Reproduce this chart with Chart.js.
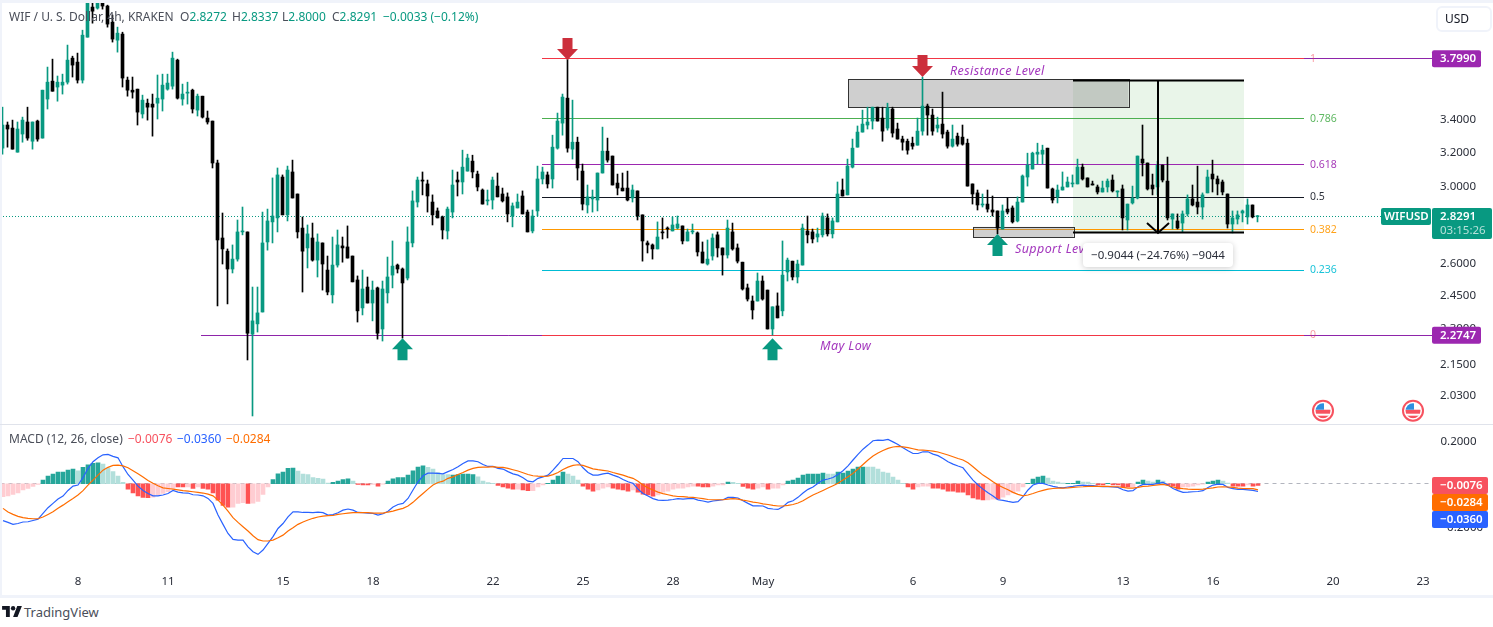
<!DOCTYPE html>
<html>
<head>
<meta charset="utf-8">
<title>WIFUSD 4h</title>
<script src="https://cdn.jsdelivr.net/npm/chart.js@4"></script>
<style>
  html, body { margin: 0; padding: 0; background: #fff; overflow: hidden; }
  body { width: 1493px; height: 627px; position: relative; font-family: "Noto Sans", sans-serif; color: #4a4e59; }
  canvas { position: absolute; left: 0; }
  #mainChart { top: 3px; }
  #macdChart { top: 425px; }
  .strip { position: absolute; background: #f0f3fa; }
  .txt { position: absolute; font-size: 12px; line-height: 14px; white-space: nowrap; }
  .up { color: #089981; }
</style>
</head>
<body>
<canvas id="mainChart" width="1493" height="421"></canvas>
<canvas id="macdChart" width="1493" height="170"></canvas>

<div class="strip" style="left:0;top:0;width:1493px;height:3px"></div>
<div class="strip" style="left:0;top:0;width:2px;height:596px"></div>
<div class="strip" style="left:0;top:424px;width:1493px;height:1px;background:#e0e3eb"></div>
<div class="strip" style="left:0;top:595px;width:1493px;height:3px"></div>

<div class="txt" style="left:9px;top:10px">WIF / U. S. Dollar, 4h, KRAKEN</div>
<div class="txt" style="left:180px;top:10px">O<span class="up">2.8272</span></div>
<div class="txt" style="left:232px;top:10px">H<span class="up">2.8337</span></div>
<div class="txt" style="left:282px;top:10px">L<span class="up">2.8000</span></div>
<div class="txt" style="left:332px;top:10px">C<span class="up">2.8291</span></div>
<div class="txt up" style="left:383px;top:10px">−0.0033 (−0.12%)</div>

<div class="txt" style="left:9px;top:432px">MACD (12, 26, close)</div>
<div class="txt" style="left:128px;top:432px;color:#f7525f">−0.0076</div>
<div class="txt" style="left:177px;top:432px;color:#2962ff">−0.0360</div>
<div class="txt" style="left:226px;top:432px;color:#ff6d00">−0.0284</div>

<div class="txt" style="left:1436px;top:6px;width:52px;height:22px;line-height:22px;border:2px solid #f0f3fa;border-radius:6px;padding-left:0;color:#131722"><span style="margin-left:7px">USD</span></div>

<svg style="position:absolute;left:2px;top:606px" width="20" height="11" viewBox="0 0 36 20"><path fill="#131722" d="M14 20H7V7H0V0h14v20zM28 20h-8l7.5-20H36l-8 20z"/><circle cx="20" cy="4" r="4" fill="#131722"/></svg>
<div class="txt" style="left:24px;top:605px;font-size:13px;line-height:15px;color:#4a4e59">TradingView</div>

<script>
const barCount = 286;
const barLabels = Array.from({ length: barCount }, (_, i) => i);

const tickBars = [15, 33, 56, 74, 98, 116, 134, 152, 182, 200, 224, 242, 266, 284];
const tickNames = ['8', '11', '15', '18', '22', '25', '28', 'May', '6', '9', '13', '16', '20', '23'];

const priceTicks = [3.4, 3.2, 3.0, 2.6, 2.45, 2.3, 2.15, 2.03];
const macdTicks = [0.2, -0.2];

const opens = [
  3.214,3.356,3.337,3.190,3.300,3.375,3.256,3.381,3.275,3.523,
  3.643,3.603,3.616,3.636,3.803,3.775,3.650,3.955,4.184,4.176,
  4.215,4.192,4.068,3.933,3.978,3.650,3.582,3.589,3.426,3.496,
  3.490,3.496,3.523,3.589,3.609,3.789,3.523,3.562,3.582,3.451,
  3.542,3.400,3.381,3.126,2.717,2.651,2.564,2.612,2.748,2.748,
  2.270,2.314,2.366,2.697,2.800,2.821,3.045,2.837,3.074,2.950,
  2.768,2.667,2.717,2.607,2.692,2.559,2.443,2.583,2.677,2.672,
  2.627,2.512,2.384,2.479,2.406,2.475,2.292,2.452,2.535,2.583,
  2.564,2.521,2.692,2.906,3.028,3.006,2.906,2.858,2.826,2.753,
  2.852,3.028,3.017,3.079,3.137,3.062,2.972,2.912,2.917,2.994,
  2.950,2.934,2.831,2.874,2.939,2.852,2.753,2.858,3.034,3.057,
  3.034,3.214,3.368,3.529,3.208,3.250,3.079,2.890,2.923,2.917,
  3.068,3.196,3.167,3.011,2.983,2.983,2.928,2.967,2.837,2.692,
  2.682,2.662,2.748,2.768,2.753,2.768,2.779,2.702,2.748,2.743,
  2.647,2.588,2.627,2.733,2.667,2.632,2.748,2.667,2.597,2.475,
  2.415,2.415,2.507,2.465,2.292,2.393,2.371,2.550,2.602,2.526,
  2.583,2.753,2.748,2.722,2.733,2.821,2.738,2.800,2.972,2.945,
  3.102,3.220,3.312,3.356,3.381,3.470,3.400,3.337,3.458,3.331,
  3.269,3.256,3.244,3.232,3.318,3.477,3.419,3.337,3.362,3.312,
  3.226,3.287,3.281,3.244,3.006,2.956,2.890,2.895,2.863,2.858,
  2.763,2.868,2.874,2.805,2.906,3.045,3.091,3.178,3.178,3.214,
  2.978,2.934,2.972,2.989,3.006,3.006,3.102,3.040,3.006,2.989,
  2.961,2.989,3.028,2.961,2.978,2.810,2.901,2.928,3.149,3.126,
  3.000,2.989,3.114,3.022,2.815,2.805,2.794,2.842,2.923,2.906,
  2.879,2.956,3.062,3.034,3.017,2.950,2.789,2.815,2.847,2.826,
  2.890,2.8272
];
const highs = [
  3.470,3.375,3.387,3.375,3.406,3.470,3.375,3.387,3.582,3.740,
  3.796,3.678,3.691,3.897,3.817,3.839,4.007,4.260,4.240,4.240,
  4.240,4.199,4.122,4.030,3.992,3.671,3.671,3.589,3.549,3.523,
  3.556,3.685,3.691,3.691,3.846,3.796,3.623,3.636,3.589,3.556,
  3.542,3.445,3.381,3.143,2.847,2.662,2.682,2.810,2.879,2.748,
  2.479,2.479,2.852,2.868,3.040,3.097,3.057,3.108,3.143,2.950,
  2.826,2.784,2.794,2.738,2.692,2.627,2.722,2.758,2.722,2.779,
  2.627,2.531,2.559,2.526,2.507,2.479,2.507,2.622,2.702,2.588,
  2.569,2.774,2.967,3.045,3.074,3.028,2.945,2.874,2.831,2.879,
  3.085,3.074,3.202,3.178,3.172,3.079,2.978,2.972,3.045,3.068,
  2.983,2.956,2.901,2.950,2.967,2.863,2.863,3.108,3.102,3.074,
  3.293,3.432,3.556,3.796,3.516,3.281,3.120,3.000,2.972,3.068,
  3.343,3.275,3.167,3.062,3.068,3.079,3.000,2.967,2.837,2.702,
  2.687,2.800,2.821,2.774,2.826,2.831,2.779,2.763,2.789,2.748,
  2.697,2.707,2.738,2.748,2.667,2.810,2.794,2.687,2.597,2.493,
  2.438,2.545,2.531,2.465,2.389,2.452,2.702,2.617,2.602,2.607,
  2.789,2.831,2.763,2.768,2.847,2.842,2.821,3.017,3.034,3.149,
  3.269,3.350,3.451,3.470,3.470,3.470,3.470,3.496,3.470,3.368,
  3.287,3.269,3.281,3.400,3.671,3.490,3.458,3.406,3.569,3.324,
  3.356,3.306,3.356,3.269,3.006,2.972,2.950,2.972,2.939,2.858,
  2.890,2.928,2.885,2.934,3.057,3.184,3.190,3.244,3.232,3.214,
  2.983,3.000,3.074,3.045,3.057,3.149,3.120,3.040,3.022,3.000,
  3.022,3.034,3.057,2.967,3.000,2.895,2.994,3.167,3.356,3.126,
  3.062,3.137,3.114,3.161,2.842,2.842,2.858,2.945,3.000,3.108,
  2.956,3.085,3.143,3.051,3.028,2.950,2.858,2.858,2.863,2.923,
  2.890,2.8337
];
const lows = [
  3.178,3.220,3.208,3.190,3.250,3.262,3.208,3.256,3.275,3.458,
  3.575,3.509,3.556,3.623,3.671,3.630,3.630,3.955,4.060,4.168,
  4.168,4.030,3.919,3.846,3.603,3.542,3.529,3.356,3.400,3.387,
  3.287,3.394,3.445,3.582,3.589,3.523,3.483,3.490,3.432,3.413,
  3.400,3.362,3.097,2.393,2.588,2.402,2.545,2.602,2.733,2.163,
  1.948,2.279,2.366,2.656,2.692,2.748,2.837,2.805,2.928,2.717,
  2.456,2.569,2.602,2.526,2.465,2.443,2.406,2.573,2.597,2.617,
  2.503,2.322,2.353,2.406,2.327,2.249,2.241,2.406,2.475,2.545,
  2.253,2.512,2.672,2.879,2.945,2.852,2.784,2.821,2.712,2.712,
  2.821,2.939,2.950,3.079,3.040,2.967,2.895,2.890,2.868,2.934,
  2.906,2.800,2.774,2.874,2.842,2.748,2.743,2.831,3.006,2.983,
  2.983,3.208,3.293,3.190,3.149,3.028,2.863,2.847,2.852,2.858,
  3.068,3.131,3.000,2.945,2.967,2.912,2.906,2.810,2.602,2.642,
  2.612,2.662,2.712,2.717,2.753,2.763,2.687,2.702,2.738,2.627,
  2.593,2.583,2.607,2.622,2.535,2.617,2.656,2.593,2.465,2.415,
  2.335,2.415,2.419,2.292,2.266,2.340,2.349,2.507,2.512,2.498,
  2.583,2.692,2.692,2.697,2.722,2.727,2.717,2.800,2.939,2.945,
  3.097,3.220,3.312,3.331,3.331,3.381,3.256,3.324,3.281,3.269,
  3.202,3.178,3.208,3.232,3.293,3.293,3.293,3.312,3.275,3.214,
  3.220,3.226,3.232,2.994,2.895,2.863,2.879,2.852,2.831,2.738,
  2.763,2.842,2.794,2.800,2.906,2.994,3.091,3.120,3.120,2.983,
  2.901,2.901,2.972,2.989,2.989,3.006,3.028,2.989,3.000,2.950,
  2.961,2.961,2.961,2.934,2.758,2.758,2.895,2.923,3.051,2.972,
  2.945,2.945,3.017,2.810,2.763,2.763,2.748,2.831,2.885,2.842,
  2.815,2.956,2.961,2.945,2.945,2.768,2.743,2.789,2.800,2.789,
  2.821,2.8000
];
const closes = [
  3.356,3.331,3.208,3.331,3.387,3.275,3.375,3.269,3.582,3.636,
  3.575,3.636,3.636,3.789,3.754,3.650,3.970,4.223,4.152,4.215,
  4.192,4.053,3.941,3.985,3.664,3.582,3.569,3.438,3.516,3.470,
  3.470,3.529,3.616,3.630,3.803,3.529,3.556,3.569,3.458,3.542,
  3.406,3.375,3.126,2.707,2.662,2.564,2.612,2.748,2.753,2.274,
  2.327,2.362,2.692,2.805,2.831,3.057,2.837,3.085,2.928,2.748,
  2.651,2.738,2.607,2.697,2.588,2.456,2.583,2.682,2.667,2.617,
  2.503,2.371,2.470,2.406,2.465,2.274,2.470,2.526,2.578,2.564,
  2.498,2.697,2.912,3.028,3.022,2.939,2.837,2.821,2.758,2.868,
  3.000,3.017,3.102,3.155,3.074,2.989,2.895,2.917,3.028,2.934,
  2.912,2.842,2.885,2.906,2.842,2.748,2.831,3.034,3.074,3.006,
  3.220,3.381,3.536,3.214,3.250,3.097,2.895,2.934,2.934,3.068,
  3.196,3.143,3.000,2.983,2.967,2.917,2.972,2.831,2.702,2.682,
  2.662,2.722,2.743,2.763,2.784,2.789,2.702,2.748,2.753,2.647,
  2.593,2.612,2.717,2.667,2.632,2.768,2.662,2.602,2.470,2.424,
  2.375,2.507,2.424,2.292,2.389,2.340,2.535,2.607,2.526,2.588,
  2.768,2.733,2.712,2.738,2.831,2.738,2.805,2.950,2.939,3.108,
  3.214,3.312,3.362,3.375,3.470,3.381,3.318,3.464,3.306,3.269,
  3.250,3.202,3.226,3.318,3.477,3.419,3.318,3.356,3.300,3.226,
  3.269,3.238,3.238,2.994,2.950,2.890,2.895,2.868,2.852,2.768,
  2.858,2.852,2.800,2.906,3.051,3.114,3.184,3.190,3.202,2.983,
  2.917,2.972,2.989,3.017,3.011,3.102,3.034,2.989,3.000,2.961,
  2.983,3.022,2.967,2.967,2.821,2.895,2.928,3.167,3.126,2.978,
  2.978,3.114,3.028,2.821,2.842,2.768,2.842,2.923,2.890,2.879,
  2.945,3.045,3.034,3.006,2.961,2.789,2.821,2.837,2.858,2.890,
  2.826,2.8291
];

const macdLine = [
  -.171,-.179,-.188,-.184,-.177,-.176,-.170,-.164,-.137,-.111,
  -.091,-.071,-.057,-.031,-.011,-.006,.028,.071,.102,.120,
  .134,.136,.127,.120,.079,.043,.017,-.011,-.031,-.045,
  -.056,-.056,-.052,-.045,-.031,-.039,-.042,-.043,-.051,-.052,
  -.056,-.068,-.091,-.145,-.188,-.230,-.258,-.261,-.261,-.292,
  -.315,-.327,-.307,-.276,-.245,-.207,-.184,-.153,-.130,-.130,
  -.133,-.133,-.134,-.131,-.134,-.145,-.143,-.134,-.122,-.117,
  -.122,-.133,-.134,-.136,-.137,-.145,-.139,-.127,-.108,-.096,
  -.091,-.068,-.029,.009,.037,.049,.049,.048,.046,.056,
  .066,.079,.094,.106,.106,.102,.089,.080,.080,.071,
  .068,.056,.046,.040,.028,.012,.009,.025,.032,.040,
  .063,.089,.117,.117,.117,.102,.074,.052,.040,.040,
  .046,.049,.040,.032,.020,.009,.002,-.025,-.045,-.057,
  -.069,-.076,-.077,-.076,-.073,-.069,-.071,-.069,-.068,-.076,
  -.080,-.085,-.080,-.077,-.074,-.063,-.063,-.066,-.079,-.091,
  -.102,-.102,-.103,-.114,-.117,-.119,-.106,-.086,-.079,-.063,
  -.043,-.026,-.015,.002,.017,.022,.029,.043,.060,.083,
  .110,.136,.160,.179,.199,.202,.201,.205,.194,.182,
  .167,.153,.140,.140,.148,.148,.137,.130,.117,.102,
  .091,.082,.074,.045,.017,-.006,-.025,-.042,-.057,-.074,
  -.077,-.082,-.086,-.083,-.060,-.029,-.006,.002,.002,-.006,
  -.012,-.017,-.019,-.015,-.012,-.008,-.006,-.008,-.009,-.012,
  -.014,-.014,-.015,-.017,-.028,-.034,-.032,-.014,-.003,-.003,
  -.003,.002,.006,-.006,-.022,-.032,-.040,-.039,-.037,-.036,
  -.032,-.017,-.006,-.002,-.003,-.017,-.023,-.026,-.026,-.028,
  -.031,-.0360
];
const signalLine = [
  -.114,-.131,-.142,-.151,-.157,-.160,-.162,-.162,-.154,-.142,
  -.130,-.114,-.099,-.083,-.068,-.052,-.032,-.006,.017,.040,
  .063,.076,.085,.086,.083,.074,.060,.046,.031,.015,
  .002,-.009,-.019,-.022,-.025,-.028,-.032,-.034,-.037,-.040,
  -.043,-.048,-.056,-.076,-.099,-.127,-.157,-.179,-.199,-.219,
  -.241,-.259,-.265,-.265,-.261,-.250,-.238,-.219,-.204,-.188,
  -.177,-.168,-.160,-.154,-.150,-.148,-.147,-.142,-.139,-.136,
  -.134,-.134,-.134,-.134,-.136,-.136,-.136,-.131,-.127,-.120,
  -.114,-.103,-.086,-.065,-.045,-.025,-.006,.006,.012,.025,
  .032,.043,.052,.063,.071,.076,.077,.077,.079,.076,
  .076,.071,.065,.059,.051,.043,.037,.035,.034,.035,
  .042,.052,.066,.077,.085,.088,.085,.077,.069,.065,
  .062,.059,.052,.046,.040,.032,.025,.012,-.006,-.019,
  -.029,-.039,-.046,-.051,-.056,-.059,-.060,-.062,-.063,-.066,
  -.069,-.073,-.074,-.074,-.074,-.071,-.069,-.071,-.076,-.080,
  -.085,-.088,-.093,-.096,-.100,-.103,-.103,-.100,-.096,-.089,
  -.079,-.065,-.052,-.042,-.031,-.020,-.009,.002,.017,.032,
  .048,.068,.089,.110,.128,.142,.154,.164,.170,.173,
  .171,.167,.162,.157,.156,.154,.151,.147,.140,.133,
  .125,.117,.110,.097,.079,.059,.040,.025,.009,-.006,
  -.017,-.028,-.040,-.049,-.056,-.052,-.045,-.037,-.031,-.025,
  -.022,-.020,-.020,-.019,-.017,-.015,-.014,-.012,-.012,-.012,
  -.012,-.012,-.014,-.014,-.017,-.020,-.020,-.017,-.012,-.011,
  -.008,-.005,-.003,-.008,-.015,-.020,-.023,-.025,-.026,-.026,
  -.025,-.022,-.019,-.015,-.014,-.015,-.017,-.020,-.022,-.023,
  -.023,-.0284
];
const macdHist = [
  -.060,-.056,-.049,-.042,-.029,-.022,-.012,-.003,.017,.035,
  .045,.054,.054,.063,.068,.060,.076,.088,.094,.097,
  .091,.073,.056,.035,.006,-.025,-.043,-.056,-.063,-.065,
  -.062,-.054,-.045,-.037,-.022,-.015,-.015,-.015,-.022,-.015,
  -.022,-.025,-.042,-.076,-.100,-.108,-.108,-.091,-.088,-.091,
  -.090,-.082,-.049,-.015,.019,.046,.054,.071,.073,.059,
  .045,.042,.029,.025,.022,.003,.006,.012,.019,.023,
  .012,-.003,-.005,-.006,-.003,-.011,-.002,.012,.023,.028,
  .029,.040,.060,.077,.083,.076,.068,.052,.043,.043,
  .040,.043,.045,.045,.042,.032,.012,.005,.002,-.008,
  -.015,-.020,-.025,-.025,-.029,-.032,-.032,-.015,-.005,.002,
  .017,.035,.054,.045,.035,.017,-.011,-.025,-.034,-.029,
  -.020,-.015,-.020,-.025,-.029,-.034,-.029,-.039,-.048,-.052,
  -.057,-.052,-.039,-.034,-.025,-.020,-.020,-.015,-.011,-.011,
  -.015,-.015,-.011,-.006,-.005,.008,.006,.002,-.012,-.020,
  -.025,-.020,-.015,-.025,-.020,-.020,-.006,.012,.017,.026,
  .040,.045,.045,.045,.049,.045,.045,.054,.049,.059,
  .068,.077,.077,.077,.077,.068,.054,.049,.031,.017,
  .002,-.015,-.025,-.015,-.011,-.011,-.020,-.020,-.025,-.034,
  -.034,-.039,-.039,-.052,-.066,-.071,-.075,-.075,-.071,-.071,
  -.062,-.052,-.043,-.034,-.015,.002,.022,.031,.035,.026,
  .012,.008,.003,.002,.002,.012,.008,.008,.002,-.006,
  -.006,.002,-.006,-.006,-.015,-.015,-.015,.008,.017,.012,
  .008,.017,.012,-.006,-.011,-.025,-.015,-.015,-.011,-.006,
  -.002,.008,.012,.017,.012,.003,-.011,-.011,-.011,-.006,
  -.011,-.0076
];
// 1 where the histogram moved up against the bar before, read from its shade
const histRising = [
  1,1,1,1,1,1,1,1,1,1, 1,1,1,1,1,0,1,1,1,1, 0,0,0,0,0,0,0,0,0,0,
  1,1,1,1,1,0,0,1,0,1, 0,0,0,0,0,0,1,1,1,0, 1,1,1,1,1,1,1,1,1,0,
  0,0,0,0,0,0,1,1,1,1, 0,0,0,0,1,0,1,1,1,1, 1,1,1,1,1,0,0,0,0,0,
  1,1,1,1,1,0,0,0,0,0, 0,0,0,1,0,0,1,1,1,1, 1,1,1,0,0,0,0,0,0,1,
  1,1,0,0,0,0,1,0,0,0, 0,1,1,1,1,1,1,1,1,0, 0,0,1,1,1,1,0,0,0,0,
  0,1,1,0,1,1,1,1,1,1, 1,1,1,1,1,0,0,1,1,1, 1,1,1,0,0,0,0,0,0,0,
  0,0,0,1,1,1,0,0,0,0, 0,0,0,0,0,0,0,1,1,0, 1,1,1,1,1,1,1,1,1,0,
  0,0,0,1,1,1,0,0,0,0, 0,1,0,0,0,0,1,1,1,0, 0,1,0,0,0,0,1,1,1,1,
  1,1,1,1,0,0,0,0,0,1, 0,0
];

const lastPrice = 2.8291;
const fibLevels = ['1', '0.786', '0.618', '0.5', '0.382', '0.236', '0'];
const fibPrices = [3.799, 3.397, 3.116, 2.932, 2.758, 2.558, 2.265];
const fibColors = ['#f23645', '#4caf50', '#9c27b0', '#131722', '#ff9800', '#00bcd4', '#f23645'];

const colorUp = '#089981';
const colorDown = '#000000';
const uiFont = '"Noto Sans", sans-serif';

// price tag with one or two lines of text, in the axis gutter
function tag(ctx, x, y, w, h, color, text, sub, pad) {
  ctx.fillStyle = color;
  ctx.beginPath();
  ctx.roundRect(x, y, w, h, 2);
  ctx.fill();
  ctx.fillStyle = '#fff';
  ctx.textAlign = 'left';
  ctx.textBaseline = 'middle';
  ctx.font = '600 11.5px ' + uiFont;
  ctx.fillText(text, x + (pad || 8), y + 8.5);
  if (sub) {
    ctx.fillStyle = 'rgba(255,255,255,0.7)';
    ctx.font = '11.5px ' + uiFont;
    ctx.fillText(sub, x + 8, y + 23);
  }
}

function box(ctx, xs, ys, a, b, top, bottom, fill, stroke) {
  const x0 = xs.getPixelForValue(a), x1 = xs.getPixelForValue(b);
  const y0 = ys.getPixelForValue(top), y1 = ys.getPixelForValue(bottom);
  ctx.fillStyle = fill;
  ctx.fillRect(x0, y0, x1 - x0, y1 - y0);
  if (stroke) {
    ctx.strokeStyle = stroke;
    ctx.lineWidth = 1;
    ctx.strokeRect(Math.round(x0) + .5, Math.round(y0) + .5, Math.round(x1 - x0), Math.round(y1 - y0));
  }
}

function hline(ctx, xs, ys, a, b, price, color, width) {
  const y = Math.floor(ys.getPixelForValue(price)) + .5;
  ctx.strokeStyle = color;
  ctx.lineWidth = width || 1;
  ctx.beginPath();
  ctx.moveTo(xs.getPixelForValue(a), y);
  ctx.lineTo(xs.getPixelForValue(b), y);
  ctx.stroke();
}

function blockArrow(ctx, x, tipY, dir, color) {
  ctx.fillStyle = color;
  ctx.beginPath();
  ctx.moveTo(x, tipY);
  ctx.lineTo(x + 10.5, tipY - dir * 11);
  ctx.lineTo(x + 5, tipY - dir * 11);
  ctx.lineTo(x + 5, tipY - dir * 22);
  ctx.lineTo(x - 5, tipY - dir * 22);
  ctx.lineTo(x - 5, tipY - dir * 11);
  ctx.lineTo(x - 10.5, tipY - dir * 11);
  ctx.closePath();
  ctx.fill();
}

function usFlag(ctx, x, y) {
  ctx.save();
  ctx.beginPath();
  ctx.arc(x, y, 10, 0, Math.PI * 2);
  ctx.fillStyle = '#fff';
  ctx.fill();
  ctx.lineWidth = 2;
  ctx.strokeStyle = '#f7525f';
  ctx.stroke();
  ctx.beginPath();
  ctx.arc(x, y, 7.5, 0, Math.PI * 2);
  ctx.clip();
  ctx.fillStyle = '#f7525f';
  ctx.fillRect(x - 8, y - 1, 16, 4);
  ctx.fillRect(x - 8, y + 5, 16, 3);
  ctx.fillStyle = '#2e8fe0';
  ctx.fillRect(x - 8, y - 8, 9, 7);
  ctx.restore();
}

const underCandles = {
  id: 'underCandles',
  beforeDatasetsDraw(chart) {
    const { ctx, scales: { x, y }, chartArea } = chart;
    ctx.save();
    box(ctx, x, y, 214.1, 248.3, 3.650, 2.743, 'rgba(76,175,80,0.125)');

    hline(ctx, x, y, 39.7, 286, fibPrices[6], '#8e24aa');
    hline(ctx, x, y, 260.3, 286, fibPrices[0], '#8e24aa');
    fibPrices.forEach((p, i) => {
      hline(ctx, x, y, 107.9, 260.3, p, fibColors[i]);
      ctx.font = '10.5px ' + uiFont;
      ctx.textAlign = 'left';
      ctx.textBaseline = 'middle';
      ctx.fillStyle = fibColors[i];
      ctx.globalAlpha = (i === 0 || i === 6) ? 0.5 : 0.9;
      ctx.fillText(fibLevels[i], x.getPixelForValue(261.5), y.getPixelForValue(p));
      ctx.globalAlpha = 1;
    });

    box(ctx, x, y, 169.1, 225.2, 3.655, 3.468, 'rgba(128,128,128,0.38)', '#333');
    box(ctx, x, y, 194.1, 214.2, 2.774, 2.722, 'rgba(128,128,128,0.38)', '#333');

    // last price dotted line
    ctx.strokeStyle = colorUp;
    ctx.lineWidth = 1;
    ctx.setLineDash([1, 2]);
    const py = Math.floor(y.getPixelForValue(lastPrice)) + .5;
    ctx.beginPath();
    ctx.moveTo(chartArea.left, py);
    ctx.lineTo(1381, py);
    ctx.stroke();
    ctx.restore();
  }
};

const overCandles = {
  id: 'overCandles',
  afterDatasetsDraw(chart) {
    const { ctx, scales: { x, y }, chartArea } = chart;
    ctx.save();

    // projected drop
    hline(ctx, x, y, 214.1, 248.3, 3.650, '#000', 2);
    hline(ctx, x, y, 214.1, 248.3, 2.743, '#000', 2);
    const ax = x.getPixelForValue(231.1);
    const ayTop = y.getPixelForValue(3.650), ayEnd = y.getPixelForValue(2.743);
    ctx.strokeStyle = '#000';
    ctx.lineWidth = 2;
    ctx.beginPath();
    ctx.moveTo(ax, ayTop);
    ctx.lineTo(ax, ayEnd);
    ctx.moveTo(ax - 11, ayEnd - 10);
    ctx.lineTo(ax, ayEnd);
    ctx.lineTo(ax + 11, ayEnd - 10);
    ctx.stroke();

    blockArrow(ctx, x.getPixelForValue(113), y.getPixelForValue(3.790), 1, '#cc2f3c');
    blockArrow(ctx, x.getPixelForValue(184), y.getPixelForValue(3.671), 1, '#cc2f3c');
    blockArrow(ctx, x.getPixelForValue(80), y.getPixelForValue(2.253), -1, colorUp);
    blockArrow(ctx, x.getPixelForValue(154), y.getPixelForValue(2.253), -1, colorUp);
    blockArrow(ctx, x.getPixelForValue(199), y.getPixelForValue(2.738), -1, colorUp);

    ctx.fillStyle = '#a336bd';
    ctx.font = 'italic 12.5px ' + uiFont;
    ctx.letterSpacing = '0.4px';
    ctx.textAlign = 'left';
    ctx.textBaseline = 'middle';
    ctx.fillText('Resistance Level', x.getPixelForValue(189.5), y.getPixelForValue(3.712));
    ctx.fillText('Support Level', x.getPixelForValue(202.5), y.getPixelForValue(2.662));
    ctx.fillText('May Low', x.getPixelForValue(163.5), y.getPixelForValue(2.217));
    ctx.letterSpacing = '0px';

    // measure box
    const tx = x.getPixelForValue(216.1), ty = y.getPixelForValue(2.692);
    ctx.save();
    ctx.shadowColor = 'rgba(0,0,0,0.2)';
    ctx.shadowBlur = 6;
    ctx.shadowOffsetY = 1;
    ctx.fillStyle = '#fff';
    ctx.beginPath();
    ctx.roundRect(tx, ty, 150, 24, 4);
    ctx.fill();
    ctx.restore();
    ctx.fillStyle = '#2a2e39';
    ctx.font = '11.5px ' + uiFont;
    ctx.textAlign = 'center';
    ctx.fillText('−0.9044 (−24.76%) −9044', tx + 75, ty + 12.5);

    usFlag(ctx, x.getPixelForValue(264.1), chartArea.bottom - 13.3);
    usFlag(ctx, x.getPixelForValue(282.1), chartArea.bottom - 13.3);
    ctx.restore();
  },
  afterDraw(chart) {
    const { ctx, scales: { y } } = chart;
    ctx.save();
    tag(ctx, 1432, y.getPixelForValue(fibPrices[0]) - 8.5, 49, 17, '#9c27b0', '3.7990');
    tag(ctx, 1432, y.getPixelForValue(fibPrices[6]) - 8.5, 49, 17, '#9c27b0', '2.2747');
    tag(ctx, 1381, y.getPixelForValue(lastPrice) - 8.5, 50, 17, colorUp, 'WIFUSD', null, 3);
    tag(ctx, 1432, y.getPixelForValue(lastPrice) - 8.5, 60, 31, colorUp, '2.8291', '03:15:26');
    ctx.restore();
  }
};

const macdOverlay = {
  id: 'macdOverlay',
  beforeDatasetsDraw(chart) {
    const { ctx, scales: { y }, chartArea } = chart;
    const zy = Math.floor(y.getPixelForValue(0)) + .5;
    ctx.save();
    ctx.strokeStyle = '#b2b5be';
    ctx.lineWidth = 1;
    ctx.setLineDash([4, 4]);
    ctx.beginPath();
    ctx.moveTo(chartArea.left, zy);
    ctx.lineTo(chartArea.right, zy);
    ctx.stroke();
    ctx.restore();
  },
  afterDraw(chart) {
    const { ctx } = chart;
    ctx.save();
    tag(ctx, 1432, 52, 56, 17, '#f7525f', '−0.0076');
    tag(ctx, 1432, 69, 56, 17, '#ff6d00', '−0.0284');
    tag(ctx, 1432, 86, 56, 17, '#2962ff', '−0.0360');
    ctx.restore();
  }
};

// tick padding would otherwise shrink the plot height
const rightAxis = {
  position: 'right',
  grid: { display: false, drawTicks: false },
  border: { display: false },
  afterFit(scale) {
    scale.width = 63;
    scale.paddingTop = 0;
    scale.paddingBottom = 0;
  }
};

new Chart(document.getElementById('mainChart'), {
  type: 'bar',
  data: {
    labels: barLabels,
    datasets: [
      {
        data: lows.map((l, i) => [l, highs[i]]),
        barThickness: 1,
        grouped: false,
        backgroundColor: ctx => closes[ctx.dataIndex] >= opens[ctx.dataIndex] ? colorUp : colorDown
      },
      {
        data: opens.map((o, i) => [o, closes[i]]),
        barThickness: 3,
        grouped: false,
        minBarLength: 1,
        backgroundColor: ctx => closes[ctx.dataIndex] >= opens[ctx.dataIndex] ? colorUp : colorDown
      }
    ]
  },
  options: {
    responsive: false,
    animation: false,
    events: [],
    layout: { padding: 0, autoPadding: false },
    plugins: { legend: { display: false }, tooltip: { enabled: false } },
    scales: {
      x: { display: false },
      y: {
        ...rightAxis,
        type: 'logarithmic',
        min: 1.919,
        max: 4.216,
        bounds: 'data',
        afterBuildTicks(scale) { scale.ticks = priceTicks.map(v => ({ value: v })); },
        ticks: {
          autoSkip: false,
          padding: 10,
          labelOffset: 2,
          color: '#2a2e39',
          font: { family: uiFont, size: 11.5 },
          callback: v => Number(v).toFixed(4)
        }
      }
    }
  },
  plugins: [underCandles, overCandles]
});

new Chart(document.getElementById('macdChart'), {
  type: 'bar',
  data: {
    labels: barLabels,
    datasets: [
      {
        data: macdHist,
        order: 3,
        barThickness: 4,
        backgroundColor: ctx => {
          const up = histRising[ctx.dataIndex];
          if (macdHist[ctx.dataIndex] >= 0) return up ? '#26a69a' : '#b2dfdb';
          return up ? '#ffcdd2' : '#ff5252';
        }
      },
      { type: 'line', data: macdLine, order: 2, borderColor: '#2962ff', borderWidth: 1.2, pointRadius: 0, tension: 0 },
      { type: 'line', data: signalLine, order: 1, borderColor: '#ff6d00', borderWidth: 1.2, pointRadius: 0, tension: 0 }
    ]
  },
  options: {
    responsive: false,
    animation: false,
    events: [],
    // half a pixel so the 4px histogram bars land on whole pixels
    layout: { padding: { left: 0.5 }, autoPadding: false },
    plugins: { legend: { display: false }, tooltip: { enabled: false } },
    scales: {
      x: {
        grid: { display: false, drawTicks: false },
        border: { display: false },
        afterFit(scale) { scale.height = 24; },
        afterBuildTicks(scale) { scale.ticks = tickBars.map(v => ({ value: v })); },
        ticks: {
          autoSkip: false,
          maxRotation: 0,
          padding: 4,
          color: '#2a2e39',
          font: { family: uiFont, size: 11.5 },
          callback: v => tickNames[tickBars.indexOf(v)]
        }
      },
      y: {
        ...rightAxis,
        afterFit(scale) {
          scale.width = 62.5;
          scale.paddingTop = 0;
          scale.paddingBottom = 0;
        },
        min: -0.404,
        max: 0.272,
        afterBuildTicks(scale) { scale.ticks = macdTicks.map(v => ({ value: v })); },
        ticks: {
          autoSkip: false,
          padding: 10,
          labelOffset: 1,
          color: '#2a2e39',
          font: { family: uiFont, size: 11.5 },
          callback: v => Number(v).toFixed(4).replace('-', '−')
        }
      }
    }
  },
  plugins: [macdOverlay]
});
</script>
</body>
</html>
